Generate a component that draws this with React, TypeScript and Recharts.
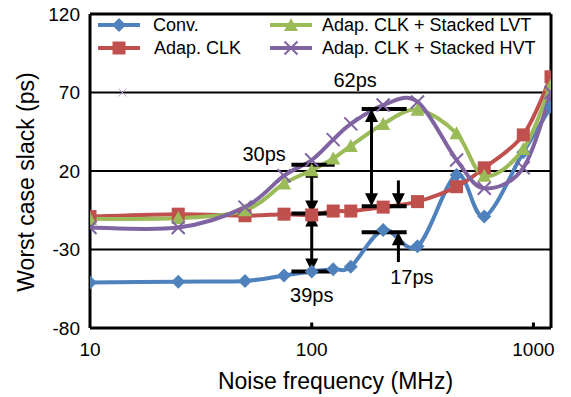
import React from "react";
import {
  LineChart,
  Line,
  XAxis,
  YAxis,
  CartesianGrid,
  ReferenceLine,
  ReferenceDot
} from "recharts";

// noise frequency (MHz) and worst case slack (ps) per design
const freq = [10, 25, 50, 75, 100, 125, 150, 210, 300, 450, 600, 900, 1200];
const conv = [-51, -50.5, -50, -46.5, -44, -42.5, -41, -17.5, -28, 17.5, -9, 32, 61];
const adapClk = [-9, -7.5, -8.5, -7.5, -8, -5.5, -5.5, -3, 0.5, 10, 22, 43, 80];
const stackedLvt = [-10.5, -10, -5, 12, 20.5, 28, 36, 50, 59, 44, 17, 34, 75];
const stackedHvt = [-16, -16, -3, 17, 27, 40, 50, 62, 64, 27, 9, 22, 70];

const xTicks = [10, 100, 1000];
const yTicks = [-80, -30, 20, 70, 120];

// annotation bars, arrows and notes (data units)
const capBars = [
  { from: 81, to: 127, y: 24 },
  { from: 81, to: 127, y: -7 },
  { from: 81, to: 127, y: -44 },
  { from: 168, to: 268, y: 59.5 },
  { from: 168, to: 268, y: -2.5 },
  { from: 168, to: 268, y: -19 }
];
const arrows = [
  { x: 100, y1: -7, y2: 24, both: true },
  { x: 100, y1: -7, y2: -44, both: true },
  { x: 186, y1: -2.5, y2: 59.5, both: true },
  { x: 246, y1: 14, y2: -2.5, both: false },
  { x: 246, y1: -38, y2: -19, both: false }
];
const notes = [
  { text: "62ps", x: 157, y: 78 },
  { text: "30ps", x: 61, y: 31 },
  { text: "39ps", x: 100, y: -59 },
  { text: "17ps", x: 283, y: -47.5 }
];

const FONT = "'Liberation Sans', Arial, Helvetica, sans-serif";

const series = [
  { key: "conv", name: "Conv.", color: "#4F81BD", marker: "diamond" },
  { key: "adap", name: "Adap. CLK", color: "#C0504D", marker: "square" },
  { key: "lvt", name: "Adap. CLK + Stacked LVT", color: "#9BBB59", marker: "triangle" },
  { key: "hvt", name: "Adap. CLK + Stacked HVT", color: "#8064A2", marker: "cross" }
];

const data = freq.map((f, i) => ({
  f,
  conv: conv[i],
  adap: adapClk[i],
  lvt: stackedLvt[i],
  hvt: stackedHvt[i]
}));

// smoothed line similar to the spreadsheet's "smoothed line" option
const smooth = (context: any) => {
  let pts: number[][] = [];
  return {
    areaStart() {},
    areaEnd() {},
    lineStart() {
      pts = [];
    },
    point(x: number, y: number) {
      pts.push([+x, +y]);
    },
    lineEnd() {
      const n = pts.length;
      if (!n) return;
      context.moveTo(pts[0][0], pts[0][1]);
      for (let i = 0; i < n - 1; i++) {
        const p0 = pts[Math.max(i - 1, 0)];
        const p1 = pts[i];
        const p2 = pts[i + 1];
        const p3 = pts[Math.min(i + 2, n - 1)];
        context.bezierCurveTo(
          p1[0] + (p2[0] - p0[0]) / 6,
          p1[1] + (p2[1] - p0[1]) / 6,
          p2[0] - (p3[0] - p1[0]) / 6,
          p2[1] - (p3[1] - p1[1]) / 6,
          p2[0],
          p2[1]
        );
      }
    }
  };
};

function Marker({ kind, cx, cy, color }: any) {
  if (cx == null || cy == null) return null;
  if (kind === "diamond") {
    const s = 7;
    return <path d={`M${cx},${cy - s}L${cx + s},${cy}L${cx},${cy + s}L${cx - s},${cy}Z`} fill={color} />;
  }
  if (kind === "square") {
    return <rect x={cx - 6.5} y={cy - 6.5} width={13} height={13} fill={color} />;
  }
  if (kind === "triangle") {
    return <path d={`M${cx},${cy - 7}L${cx + 7},${cy + 6}L${cx - 7},${cy + 6}Z`} fill={color} />;
  }
  const s = 6.5;
  return (
    <path
      d={`M${cx - s},${cy - s}L${cx + s},${cy + s}M${cx + s},${cy - s}L${cx - s},${cy + s}`}
      stroke={color}
      strokeWidth={2}
    />
  );
}

const arrowShape = (both: boolean) => (p: any) => {
  const { x1, y1, x2, y2 } = p;
  const dir = Math.sign(y2 - y1);
  const L = 13;
  const W = 6.5;
  const head = (tx: number, ty: number, d: number) =>
    `M${tx},${ty}L${tx - W},${ty - d * L}L${tx + W},${ty - d * L}Z`;
  return (
    <g>
      <line
        x1={x1}
        y1={both ? y1 + dir * L * 0.8 : y1}
        x2={x2}
        y2={y2 - dir * L * 0.8}
        stroke="#000"
        strokeWidth={3}
      />
      <path d={head(x2, y2, dir)} fill="#000" />
      {both && <path d={head(x1, y1, -dir)} fill="#000" />}
    </g>
  );
};

function LegendBox() {
  const items = [
    { s: series[0], x: 98, y: 25 },
    { s: series[1], x: 98, y: 48 },
    { s: series[2], x: 270, y: 25 },
    { s: series[3], x: 270, y: 48 }
  ];
  return (
    <svg
      width={571}
      height={60}
      style={{ position: "absolute", left: 0, top: 0, pointerEvents: "none" }}
    >
      {items.map(({ s, x, y }) => (
        <g key={s.key}>
          <line x1={x} y1={y} x2={x + 42} y2={y} stroke={s.color} strokeWidth={4} />
          <Marker kind={s.marker} cx={x + 21} cy={y} color={s.color} />
          <text
            x={x + (s.key === "adap" ? 56 : s.key === "conv" ? 55 : 52)}
            y={y}
            dominantBaseline="central"
            fontSize={18}
            fontFamily={FONT}
            fill="#000"
          >
            {s.name}
          </text>
        </g>
      ))}
    </svg>
  );
}

export default function App() {
  return (
    <div
      style={{
        position: "absolute",
        left: 0,
        top: 0,
        width: 571,
        height: 397,
        background: "#fff",
        fontFamily: FONT
      }}
    >
      <LineChart
        width={571}
        height={397}
        data={data}
        margin={{ top: 14, right: 20, left: 0, bottom: 0 }}
      >
        <CartesianGrid vertical={false} stroke="#000" strokeWidth={2} />
        <XAxis
          dataKey="f"
          type="number"
          scale="log"
          domain={[10, 1200]}
          ticks={xTicks}
          allowDataOverflow
          tickLine={false}
          tickSize={0}
          tickMargin={15}
          axisLine={{ stroke: "#000", strokeWidth: 3 }}
          tick={{ fill: "#000", fontSize: 19, fontFamily: FONT }}
          height={69}
          label={(p: any) => {
            const vb = p.viewBox || {};
            return (
              <text
                x={(vb.x ?? 90) + (vb.width ?? 461) / 2 + 15}
                y={381}
                textAnchor="middle"
                dominantBaseline="central"
                fontSize={23}
                fontFamily={FONT}
                fill="#000"
              >
                Noise frequency (MHz)
              </text>
            );
          }}
        />
        <YAxis
          type="number"
          domain={[-80, 120]}
          ticks={yTicks}
          interval={0}
          width={90}
          tickLine={false}
          tickSize={0}
          tickMargin={10}
          axisLine={{ stroke: "#000", strokeWidth: 3 }}
          tick={{ fill: "#000", fontSize: 19, fontFamily: FONT }}
          label={() => (
            <text
              x={26}
              y={182}
              transform="rotate(-90, 26, 182)"
              textAnchor="middle"
              dominantBaseline="central"
              fontSize={23}
              fontFamily={FONT}
              fill="#000"
            >
              Worst case slack (ps)
            </text>
          )}
        />
        <ReferenceLine y={120} stroke="#000" strokeWidth={3} />
        <ReferenceLine x={1200} stroke="#000" strokeWidth={3} />
        {[100, 1000].map((t) => (
          <ReferenceLine
            key={t}
            segment={[
              { x: t, y: -80 },
              { x: t, y: -76.5 }
            ]}
            stroke="#000"
            strokeWidth={3}
          />
        ))}
        <ReferenceDot
          x={14}
          y={70}
          r={4}
          shape={(p: any) => (
            <path
              d={`M${p.cx - 4},${p.cy - 4}L${p.cx + 4},${p.cy + 4}M${p.cx + 4},${p.cy - 4}L${p.cx - 4},${p.cy + 4}`}
              stroke="#B3A2C7"
              strokeWidth={1}
            />
          )}
        />
        {series.map((s) => (
          <Line
            key={s.key}
            dataKey={s.key}
            name={s.name}
            type={smooth as any}
            stroke={s.color}
            strokeWidth={4}
            isAnimationActive={false}
            activeDot={false}
            dot={(p: any) => (
              <Marker key={`${s.key}-${p.index}`} kind={s.marker} cx={p.cx} cy={p.cy} color={s.color} />
            )}
          />
        ))}
        {capBars.map((b, i) => (
          <ReferenceLine
            key={`bar-${i}`}
            segment={[
              { x: b.from, y: b.y },
              { x: b.to, y: b.y }
            ]}
            stroke="#000"
            strokeWidth={4}
          />
        ))}
        {arrows.map((a, i) => (
          <ReferenceLine
            key={`arrow-${i}`}
            segment={[
              { x: a.x, y: a.y1 },
              { x: a.x, y: a.y2 }
            ]}
            shape={arrowShape(a.both)}
          />
        ))}
        {notes.map((n) => (
          <ReferenceDot
            key={n.text}
            x={n.x}
            y={n.y}
            r={1}
            shape={(p: any) => (
              <text
                x={p.cx}
                y={p.cy}
                textAnchor="middle"
                dominantBaseline="central"
                fontSize={20}
                fontFamily={FONT}
                fill="#000"
              >
                {n.text}
              </text>
            )}
          />
        ))}
      </LineChart>
      <LegendBox />
    </div>
  );
}
